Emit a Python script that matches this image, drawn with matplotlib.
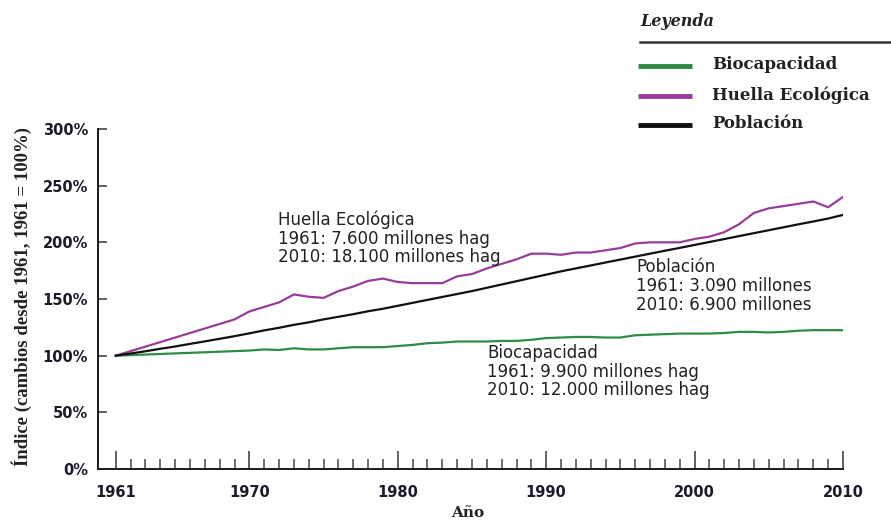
import matplotlib
matplotlib.use("Agg")
import matplotlib.pyplot as plt
from matplotlib.lines import Line2D
from matplotlib.ticker import FixedLocator

# ---------------- data ----------------
years = list(range(1961, 2011))
huella = [100, 104, 108, 112, 116, 120, 124, 128, 132, 139,
          143, 147, 154, 152, 151, 157, 161, 166, 168, 165,
          164, 164, 164, 170, 172, 177, 181, 185, 190, 190,
          189, 191, 191, 193, 195, 199, 200, 200, 200, 203,
          205, 209, 216, 226, 230, 232, 234, 236, 231, 240]
poblacion = [100.0, 101.9, 103.9, 106.1, 108.1, 110.4, 112.6, 114.9, 117.2, 119.7,
             122.3, 124.6, 127.2, 129.4, 132.0, 134.3, 136.6, 139.2, 141.4, 144.0,
             146.6, 149.2, 151.8, 154.4, 157.0, 159.9, 162.8, 165.7, 168.6, 171.5,
             174.4, 177.0, 179.6, 182.2, 184.8, 187.4, 190.0, 192.6, 195.1, 197.7,
             200.3, 202.9, 205.5, 208.1, 210.7, 213.3, 215.9, 218.4, 221.0, 224.2]
biocap = [100, 100.5, 101, 101.5, 102, 102.5, 103, 103.5, 104, 104.5,
          105.5, 105, 106.5, 105.5, 105.5, 106.5, 107.5, 107.5, 107.5, 108.5,
          109.5, 111, 111.5, 112.5, 112.5, 112.5, 113, 113, 114, 115.5,
          116, 116.5, 116.5, 116, 116, 118, 118.5, 119, 119.5, 119.5,
          119.5, 120, 121, 121, 120.5, 121, 122, 122.5, 122.5, 122.5]

ytick_vals = [0, 50, 100, 150, 200, 250, 300]
ytick_labels = ["0%", "50%", "100%", "150%", "200%", "250%", "300%"]
xtick_years = [1961, 1970, 1980, 1990, 2000, 2010]
xtick_labels = ["1961", "1970", "1980", "1990", "2000", "2010"]

legend_title = "Leyenda"
legend_labels = ["Biocapacidad", "Huella Ecológica", "Población"]
series_colors = ["#2f8a44", "#973c98", "#111111"]

annot_huella = ["Huella Ecológica", "1961: 7.600 millones hag", "2010: 18.100 millones hag"]
annot_pobl = ["Población", "1961: 3.090 millones", "2010: 6.900 millones"]
annot_bio = ["Biocapacidad", "1961: 9.900 millones hag", "2010: 12.000 millones hag"]

ylabel = "Índice (cambios desde 1961, 1961 = 100%)"
xlabel = "Año"

# ---------------- figure ----------------
W, H = 891, 522
fig = plt.figure(figsize=(W / 100, H / 100), dpi=100)
fig.patch.set_facecolor("white")

def fx(px):
    return px / W

def fy(py):
    return 1 - py / H

ax = fig.add_axes([fx(98), fy(469), (843 - 98) / W, (469 - 129) / H])

ax.plot(years, biocap, color=series_colors[0], lw=1.6, solid_joinstyle="round")
ax.plot(years, huella, color=series_colors[1], lw=1.6, solid_joinstyle="round")
ax.plot(years, poblacion, color=series_colors[2], lw=1.6, solid_joinstyle="round")

ax.set_xlim(1959.8, 2010)
ax.set_ylim(0, 300)

for s in ["top", "right"]:
    ax.spines[s].set_visible(False)
for s in ["left", "bottom"]:
    ax.spines[s].set_color("#1a1a1a")
    ax.spines[s].set_linewidth(1.4)

ax.yaxis.set_major_locator(FixedLocator(ytick_vals))
ax.set_yticklabels(ytick_labels)
ax.xaxis.set_major_locator(FixedLocator(xtick_years))
ax.set_xticklabels(xtick_labels)
ax.xaxis.set_minor_locator(FixedLocator(years))

ax.tick_params(axis="y", direction="in", length=6.5, width=1.3, color="#555555",
               pad=7, labelsize=10.5, labelcolor="#1a1a2a")
ax.tick_params(axis="x", which="major", direction="in", length=13, width=1.3,
               color="#555555", pad=11.5, labelsize=10.5, labelcolor="#1a1a2a")
ax.tick_params(axis="x", which="minor", direction="in", length=7.2, width=1.2,
               color="#555555")
for lab in ax.get_xticklabels() + ax.get_yticklabels():
    lab.set_fontfamily("DejaVu Sans")
    lab.set_fontweight("bold")

# axis labels
fig.text(fx(22), fy(297), ylabel, rotation=90, ha="center", va="center",
         fontsize=13.5, fontfamily="Liberation Serif", fontweight="bold", color="#222222")
fig.text(fx(468), fy(513), xlabel, ha="center", va="center",
         fontsize=11, fontfamily="DejaVu Serif", fontweight="bold", color="#222222")

# annotations
def put_block(x, ys, lines):
    for y, t in zip(ys, lines):
        fig.text(fx(x), fy(y + 5), t, ha="left", va="baseline", fontsize=12,
                 fontfamily="DejaVu Sans", color="#222222")

put_block(278, [220, 239, 257], annot_huella)
put_block(636, [267, 286, 305], annot_pobl)
put_block(487, [353, 372, 390], annot_bio)

# legend (drawn manually)
fig.text(fx(640), fy(22), legend_title, ha="left", va="center", fontsize=11.5,
         fontfamily="DejaVu Serif", fontweight="bold", fontstyle="italic", color="#222222")
fig.add_artist(Line2D([fx(640), fx(891)], [fy(42), fy(42)], color="#333333", lw=1.8))
for yy, lab, col in zip([66, 96, 125], legend_labels, series_colors):
    fig.add_artist(Line2D([fx(638), fx(692)], [fy(yy), fy(yy)], color=col, lw=3.5,
                          solid_capstyle="butt"))
    fig.text(fx(712), fy(yy - 1), lab, ha="left", va="center", fontsize=12,
             fontfamily="DejaVu Serif", fontweight="bold", color="#222222")

fig.savefig("out.png", dpi=100)
